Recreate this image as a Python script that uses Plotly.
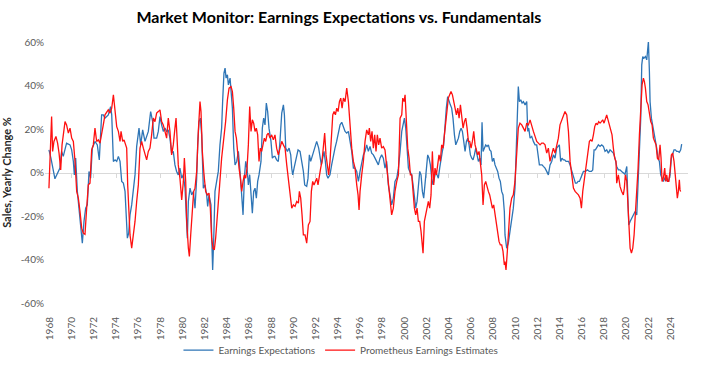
import plotly.graph_objects as go

# ---- data (decimal year, % yearly change) ----
blue_years = [
    1967.95, 1968.13, 1968.49, 1968.79, 1968.94, 1969.09, 1969.24, 1969.54, 1969.85, 1970.00,
    1970.15, 1970.24, 1970.36, 1970.51, 1970.69, 1970.81, 1970.96, 1971.11, 1971.26, 1971.41,
    1971.56, 1971.71, 1971.86, 1972.10, 1972.31, 1972.49, 1972.70, 1972.85, 1973.00, 1973.30,
    1973.51, 1973.61, 1973.76, 1973.91, 1974.06, 1974.21, 1974.36, 1974.51, 1974.66, 1974.81,
    1974.90, 1975.02, 1975.14, 1975.26, 1975.41, 1975.56, 1975.71, 1975.86, 1976.07, 1976.22,
    1976.40, 1976.61, 1976.76, 1976.91, 1977.12, 1977.30, 1977.42, 1977.66, 1977.81, 1977.96,
    1978.11, 1978.26, 1978.41, 1978.56, 1978.71, 1978.86, 1979.01, 1979.16, 1979.31, 1979.46,
    1979.61, 1979.76, 1979.92, 1980.07, 1980.22, 1980.31, 1980.43, 1980.52, 1980.67, 1980.82,
    1980.97, 1981.12, 1981.27, 1981.36, 1981.48, 1981.60, 1981.72, 1981.87, 1982.02, 1982.17,
    1982.26, 1982.38, 1982.56, 1982.62, 1982.71, 1982.80, 1982.92, 1983.07, 1983.22, 1983.37,
    1983.52, 1983.61, 1983.73, 1983.83, 1983.92, 1984.04, 1984.13, 1984.28, 1984.37, 1984.49,
    1984.61, 1984.73, 1984.88, 1985.03, 1985.18, 1985.33, 1985.45, 1985.57, 1985.69, 1985.81,
    1985.93, 1986.05, 1986.17, 1986.29, 1986.41, 1986.53, 1986.65, 1986.77, 1986.89, 1987.07,
    1987.19, 1987.31, 1987.43, 1987.55, 1987.67, 1987.79, 1987.97, 1988.09, 1988.24, 1988.33,
    1988.48, 1988.63, 1988.78, 1988.94, 1989.09, 1989.18, 1989.30, 1989.45, 1989.60, 1989.75,
    1989.84, 1989.93, 1990.05, 1990.23, 1990.41, 1990.59, 1990.77, 1990.89, 1991.01, 1991.19,
    1991.31, 1991.43, 1991.55, 1991.73, 1991.91, 1992.09, 1992.27, 1992.39, 1992.51, 1992.63,
    1992.75, 1992.87, 1992.99, 1993.11, 1993.29, 1993.44, 1993.59, 1993.74, 1993.89, 1994.05,
    1994.20, 1994.35, 1994.50, 1994.65, 1994.80, 1994.95, 1995.10, 1995.25, 1995.40, 1995.55,
    1995.70, 1995.85, 1996.00, 1996.15, 1996.30, 1996.45, 1996.60, 1996.75, 1996.90, 1997.05,
    1997.20, 1997.35, 1997.50, 1997.65, 1997.80, 1997.95, 1998.10, 1998.25, 1998.40, 1998.55,
    1998.70, 1998.85, 1999.00, 1999.15, 1999.31, 1999.46, 1999.61, 1999.76, 1999.91, 2000.00,
    2000.12, 2000.24, 2000.36, 2000.48, 2000.66, 2000.78, 2000.90, 2001.02, 2001.14, 2001.26,
    2001.38, 2001.50, 2001.62, 2001.74, 2001.86, 2001.98, 2002.10, 2002.22, 2002.34, 2002.46,
    2002.58, 2002.70, 2002.82, 2002.94, 2003.06, 2003.18, 2003.30, 2003.42, 2003.54, 2003.66,
    2003.78, 2003.90, 2004.02, 2004.14, 2004.26, 2004.38, 2004.51, 2004.63, 2004.75, 2004.87,
    2004.99, 2005.11, 2005.23, 2005.35, 2005.47, 2005.59, 2005.71, 2005.83, 2005.95, 2006.07,
    2006.19, 2006.31, 2006.43, 2006.55, 2006.67, 2006.79, 2006.91, 2007.00, 2007.09, 2007.21,
    2007.33, 2007.45, 2007.57, 2007.69, 2007.81, 2007.93, 2008.05, 2008.17, 2008.29, 2008.41,
    2008.53, 2008.65, 2008.77, 2008.89, 2009.01, 2009.07, 2009.22, 2009.37, 2009.52, 2009.67,
    2009.82, 2009.97, 2010.12, 2010.27, 2010.37, 2010.49, 2010.61, 2010.73, 2010.88, 2011.03,
    2011.12, 2011.21, 2011.33, 2011.48, 2011.63, 2011.78, 2011.93, 2012.08, 2012.17, 2012.29,
    2012.41, 2012.53, 2012.68, 2012.83, 2012.98, 2013.13, 2013.28, 2013.43, 2013.58, 2013.73,
    2013.88, 2013.97, 2014.09, 2014.21, 2014.33, 2014.45, 2014.57, 2014.69, 2014.81, 2014.93,
    2015.05, 2015.17, 2015.30, 2015.42, 2015.54, 2015.66, 2015.78, 2015.90, 2016.02, 2016.14,
    2016.32, 2016.50, 2016.68, 2016.86, 2016.98, 2017.10, 2017.22, 2017.34, 2017.49, 2017.64,
    2017.79, 2017.94, 2018.09, 2018.24, 2018.39, 2018.54, 2018.69, 2018.84, 2018.99, 2019.14,
    2019.29, 2019.44, 2019.59, 2019.74, 2019.89, 2020.05, 2020.14, 2020.23, 2020.35, 2020.50,
    2020.65, 2020.80, 2020.95, 2021.07, 2021.19, 2021.31, 2021.40, 2021.49, 2021.61, 2021.73,
    2021.85, 2021.94, 2022.00, 2022.09, 2022.15, 2022.27, 2022.39, 2022.51, 2022.63, 2022.75,
    2022.87, 2022.99, 2023.11, 2023.23, 2023.35, 2023.47, 2023.59, 2023.71, 2023.83, 2023.95,
    2024.07, 2024.19, 2024.31, 2024.43, 2024.55, 2024.67, 2024.79, 2024.91, 2025.00,
]
blue_vals = [
    10.4, 6.6, -2.9, 0.5, 2.0, 9.7, 7.4, 13.5, 12.7, 10.4,
    5.1, -1.1, 6.6, -8.7, -17.2, -24.1, -32.5, -22.5, -16.4, -14.9,
    0.5, -2.6, 11.2, 14.3, 12.7, 5.8, 26.5, 26.5, 25.0, 26.5,
    30.3, 26.5, 5.1, 5.8, 5.1, 7.4, 5.1, -4.1, -4.9, -8.7,
    -19.5, -30.2, -27.9, -19.5, -14.9, -8.7, -1.1, 12.0, 20.4, 12.7,
    19.6, 14.3, 16.6, 18.9, 28.0, 23.4, 15.8, 15.8, 18.9, 25.7,
    21.9, 18.9, 20.4, 18.9, 19.6, 15.8, 8.9, 9.7, 3.5, 0.5,
    -1.1, 2.0, -2.6, -1.1, -7.2, -16.4, -30.2, -13.3, -7.2, -10.3,
    -8.7, -16.4, -2.6, 12.7, 23.4, 25.0, 17.3, -7.2, -5.7, -10.3,
    -15.6, -10.3, -14.9, -28.7, -44.8, -31.7, -8.7, -4.1, 0.5, 12.7,
    20.4, 32.6, 45.7, 48.0, 43.4, 44.9, 40.3, 43.4, 38.8, 29.6,
    11.2, 3.5, 5.1, 9.7, 0.5, -8.7, -19.5, -2.6, 5.1, 2.0,
    -5.7, -1.1, -13.3, -18.7, -8.7, -7.2, -11.8, -4.1, -1.1, 5.1,
    20.4, 25.0, 21.9, 31.9, 28.0, 20.4, 14.3, 6.6, 7.4, 7.4,
    5.8, 5.1, 14.3, 27.3, 31.1, 26.5, 11.2, 9.7, 11.2, 8.1,
    2.0, -1.1, 2.0, 6.6, 10.4, 9.7, 5.1, 0.5, -5.7, -6.4,
    -2.6, 8.1, 5.1, 8.1, 11.2, 14.3, 11.2, 6.6, 3.5, 6.6,
    9.7, 5.1, -1.1, -2.6, -1.1, 3.5, 8.1, 11.2, 14.3, 18.9,
    21.9, 23.1, 21.1, 18.9, 18.1, 18.9, 14.3, 9.7, 2.0, 2.0,
    0.5, -4.1, 0.5, 5.1, 8.1, 9.7, 12.7, 9.7, 12.0, 8.9,
    8.1, 6.6, 5.1, 3.5, 6.6, 8.1, 6.6, 2.0, 5.1, -5.7,
    -10.3, -14.9, -11.8, -4.1, -2.6, 2.0, 9.7, 18.9, 22.7, 25.0,
    20.4, 9.7, 2.0, 0.5, -1.1, -5.7, -11.8, -16.4, -13.3, -4.1,
    0.5, -1.1, -8.7, -11.8, -5.7, 3.5, 8.1, 6.6, 3.5, -2.6,
    -5.7, -2.6, 0.5, -1.1, -2.6, 2.0, 6.6, 9.7, 12.7, 21.9,
    29.6, 34.9, 32.6, 31.1, 29.6, 25.0, 17.3, 12.7, 14.3, 15.8,
    18.9, 20.4, 18.9, 12.7, 9.7, 14.3, 15.8, 12.7, 8.1, 6.6,
    5.8, 8.1, 11.2, 8.1, 5.1, 6.6, 3.5, 23.1, 9.7, 11.2,
    12.7, 12.0, 12.7, 10.4, 9.7, 5.1, 6.6, 3.5, 2.0, 0.5,
    -2.6, -4.1, -8.7, -10.3, -17.9, -28.7, -34.8, -32.5, -27.1, -22.5,
    -16.4, -7.2, 17.3, 39.5, 32.6, 33.4, 31.9, 32.6, 31.1, 32.6,
    18.9, 20.4, 15.8, 16.6, 14.3, 12.7, 12.7, 5.1, 3.5, 3.5,
    3.5, 2.8, 2.0, 0.5, -1.1, 3.5, 5.1, 8.1, 6.6, 11.2,
    12.0, 12.7, 5.1, 6.6, 5.8, 5.8, 5.1, 5.1, 5.1, 3.5,
    1.2, -1.1, -2.6, -4.9, -4.9, -4.1, -4.1, -2.6, -0.3, 0.5,
    0.5, 1.2, 0.5, 0.5, 1.2, 10.4, 10.4, 11.2, 12.7, 12.0,
    12.7, 12.0, 9.7, 10.4, 8.9, 10.4, 9.7, 8.9, 6.6, 2.8,
    1.2, 1.2, 0.5, -0.3, -0.8, 2.8, -8.7, -24.1, -22.5, -21.0,
    -19.5, -17.9, -19.5, -5.7, 8.1, 25.0, 49.5, 53.3, 52.6, 53.3,
    51.8, 57.2, 60.2, 46.4, 32.6, 25.0, 21.9, 18.9, 15.8, 11.2,
    6.6, 5.1, -1.1, -2.6, -4.1, -2.6, -3.4, -4.1, -4.1, -1.1,
    6.6, 8.9, 10.4, 10.4, 9.7, 9.7, 9.3, 10.4, 13.0,
]

red_years = [
    1967.95, 1968.04, 1968.19, 1968.28, 1968.40, 1968.58, 1968.73, 1968.86, 1969.01, 1969.13,
    1969.25, 1969.40, 1969.54, 1969.70, 1969.85, 1970.00, 1970.15, 1970.30, 1970.45, 1970.60,
    1970.75, 1970.90, 1971.05, 1971.20, 1971.35, 1971.50, 1971.65, 1971.80, 1971.95, 1972.10,
    1972.25, 1972.40, 1972.55, 1972.70, 1972.85, 1973.00, 1973.15, 1973.30, 1973.45, 1973.61,
    1973.76, 1973.91, 1974.06, 1974.21, 1974.36, 1974.45, 1974.60, 1974.72, 1974.84, 1974.96,
    1975.05, 1975.14, 1975.26, 1975.41, 1975.56, 1975.71, 1975.86, 1976.01, 1976.16, 1976.31,
    1976.46, 1976.61, 1976.76, 1976.91, 1977.06, 1977.21, 1977.36, 1977.51, 1977.66, 1977.81,
    1977.96, 1978.11, 1978.26, 1978.41, 1978.56, 1978.71, 1978.86, 1979.01, 1979.16, 1979.31,
    1979.41, 1979.53, 1979.61, 1979.76, 1979.92, 1980.07, 1980.16, 1980.28, 1980.37, 1980.52,
    1980.61, 1980.73, 1980.88, 1981.00, 1981.12, 1981.27, 1981.42, 1981.57, 1981.66, 1981.78,
    1981.93, 1982.08, 1982.23, 1982.38, 1982.50, 1982.62, 1982.74, 1982.86, 1982.98, 1983.16,
    1983.34, 1983.52, 1983.70, 1983.88, 1984.04, 1984.19, 1984.37, 1984.49, 1984.61, 1984.73,
    1984.85, 1984.97, 1985.09, 1985.21, 1985.33, 1985.45, 1985.57, 1985.69, 1985.81, 1985.93,
    1986.05, 1986.17, 1986.29, 1986.41, 1986.53, 1986.65, 1986.77, 1986.89, 1987.01, 1987.13,
    1987.25, 1987.37, 1987.49, 1987.61, 1987.73, 1987.88, 1988.03, 1988.18, 1988.33, 1988.48,
    1988.63, 1988.78, 1988.94, 1989.09, 1989.24, 1989.39, 1989.54, 1989.69, 1989.84, 1989.99,
    1990.14, 1990.29, 1990.44, 1990.53, 1990.65, 1990.77, 1990.89, 1991.04, 1991.19, 1991.34,
    1991.49, 1991.61, 1991.73, 1991.85, 1991.97, 1992.09, 1992.21, 1992.33, 1992.45, 1992.57,
    1992.69, 1992.81, 1992.93, 1993.05, 1993.17, 1993.29, 1993.41, 1993.54, 1993.66, 1993.78,
    1993.90, 1994.02, 1994.14, 1994.26, 1994.38, 1994.50, 1994.65, 1994.80, 1994.95, 1995.10,
    1995.25, 1995.40, 1995.55, 1995.70, 1995.82, 1995.91, 1996.00, 1996.15, 1996.30, 1996.45,
    1996.60, 1996.75, 1996.84, 1996.96, 1997.08, 1997.20, 1997.32, 1997.44, 1997.56, 1997.68,
    1997.80, 1997.95, 1998.10, 1998.25, 1998.40, 1998.55, 1998.70, 1998.85, 1999.00, 1999.15,
    1999.31, 1999.46, 1999.61, 1999.76, 1999.85, 1999.97, 2000.06, 2000.18, 2000.30, 2000.42,
    2000.54, 2000.66, 2000.78, 2000.90, 2001.02, 2001.14, 2001.26, 2001.38, 2001.50, 2001.62,
    2001.68, 2001.80, 2001.92, 2002.04, 2002.16, 2002.28, 2002.40, 2002.52, 2002.64, 2002.76,
    2002.88, 2003.00, 2003.12, 2003.24, 2003.36, 2003.48, 2003.60, 2003.72, 2003.84, 2003.96,
    2004.08, 2004.20, 2004.33, 2004.45, 2004.57, 2004.69, 2004.81, 2004.93, 2005.05, 2005.17,
    2005.29, 2005.41, 2005.53, 2005.65, 2005.77, 2005.89, 2006.01, 2006.13, 2006.25, 2006.37,
    2006.49, 2006.61, 2006.73, 2006.85, 2006.97, 2007.09, 2007.21, 2007.33, 2007.45, 2007.57,
    2007.69, 2007.81, 2007.93, 2008.05, 2008.17, 2008.29, 2008.41, 2008.53, 2008.65, 2008.77,
    2008.89, 2009.01, 2009.07, 2009.16, 2009.28, 2009.40, 2009.52, 2009.67, 2009.82, 2009.97,
    2010.12, 2010.27, 2010.42, 2010.58, 2010.73, 2010.88, 2011.03, 2011.18, 2011.33, 2011.48,
    2011.63, 2011.78, 2011.93, 2012.08, 2012.23, 2012.38, 2012.53, 2012.68, 2012.83, 2012.98,
    2013.13, 2013.28, 2013.43, 2013.58, 2013.73, 2013.88, 2014.03, 2014.18, 2014.33, 2014.48,
    2014.64, 2014.79, 2014.94, 2015.09, 2015.24, 2015.39, 2015.54, 2015.69, 2015.84, 2015.96,
    2016.08, 2016.20, 2016.32, 2016.44, 2016.56, 2016.68, 2016.80, 2016.92, 2017.04, 2017.16,
    2017.28, 2017.40, 2017.52, 2017.64, 2017.76, 2017.88, 2018.00, 2018.12, 2018.24, 2018.36,
    2018.48, 2018.60, 2018.72, 2018.84, 2018.96, 2019.08, 2019.14, 2019.29, 2019.44, 2019.59,
    2019.74, 2019.83, 2019.92, 2020.05, 2020.14, 2020.23, 2020.35, 2020.47, 2020.59, 2020.71,
    2020.83, 2020.95, 2021.07, 2021.19, 2021.31, 2021.43, 2021.55, 2021.64, 2021.73, 2021.85,
    2021.97, 2022.09, 2022.21, 2022.33, 2022.45, 2022.57, 2022.69, 2022.81, 2022.93, 2023.05,
    2023.14, 2023.23, 2023.35, 2023.47, 2023.56, 2023.65, 2023.74, 2023.83, 2023.95, 2024.07,
    2024.19, 2024.31, 2024.43, 2024.55, 2024.61, 2024.70, 2024.79, 2024.85, 2024.91,
]
red_vals = [
    -7.2, 9.7, 25.7, 9.7, 14.3, 16.6, 13.5, 8.9, 1.2, 12.7,
    17.3, 23.4, 21.9, 18.1, 20.4, 15.8, 14.3, 5.1, -8.7, -11.8,
    -17.9, -25.6, -27.9, -28.4, -16.4, -5.7, -4.9, 10.4, 12.7, 20.4,
    14.3, 15.0, 13.5, 18.9, 21.9, 26.5, 28.0, 28.8, 27.3, 29.6,
    35.7, 28.0, 21.1, 18.9, 14.3, 18.9, 14.3, 15.0, 12.7, 11.2,
    -5.7, -16.4, -28.7, -34.8, -28.7, -22.5, -13.3, -5.7, 11.2, 14.3,
    11.2, 8.1, 5.8, 9.7, 11.2, 17.3, 25.0, 23.4, 27.3, 28.0,
    28.8, 23.4, 21.9, 18.9, 15.8, 25.0, 18.9, 8.1, 12.7, 20.4,
    25.0, 12.7, 3.5, -2.6, -12.6, -4.1, 6.6, -4.1, -22.5, -34.8,
    -38.6, -28.7, -16.4, -8.7, -7.2, 0.5, 18.9, 32.6, 28.0, 9.7,
    -1.1, -8.7, -10.3, -9.5, -16.4, -30.2, -34.8, -35.6, -30.2, -19.5,
    -5.7, 6.6, 14.3, 23.4, 33.4, 38.8, 39.5, 37.2, 29.6, 18.9,
    15.8, 8.1, 2.0, -2.6, -8.7, -4.1, -1.1, -2.6, 2.0, 12.7,
    30.3, 18.9, 24.2, 22.7, 18.9, 20.4, 17.3, 5.1, 11.2, 9.7,
    12.7, 15.8, 14.3, 17.3, 18.1, 15.8, 17.3, 15.0, 17.3, 11.2,
    8.1, 11.2, 14.3, 12.7, 11.2, 3.5, -4.1, -8.7, -16.4, -14.9,
    -15.6, -13.3, -14.1, -8.7, -11.8, -19.5, -28.7, -28.7, -32.5, -24.1,
    -22.5, -8.7, -4.1, -5.7, -4.1, -2.6, -5.7, -1.1, 2.0, 5.1,
    12.7, 18.1, 8.1, 2.0, -1.1, 5.1, 17.3, 26.5, 28.0, 26.5,
    29.6, 28.0, 32.6, 34.2, 29.6, 34.2, 32.6, 38.8, 32.6, 20.4,
    11.2, 5.1, 2.0, -5.7, -10.3, -17.2, -8.7, -1.1, 5.1, 14.3,
    19.6, 17.3, 20.4, 14.3, 18.9, 11.2, 17.3, 9.7, 17.3, 12.7,
    15.8, 11.2, 11.9, 10.4, 3.5, -5.7, -13.3, -19.5, -16.4, -8.7,
    -4.1, -1.1, 25.0, 26.5, 34.2, 32.6, 35.7, 18.9, 11.2, 6.6,
    -1.1, -1.1, -8.7, -16.4, -19.5, -16.4, -22.5, -22.5, -27.1, -33.3,
    -37.1, -22.5, -19.5, -16.4, -13.3, -16.4, -10.3, 9.7, -5.7, 2.0,
    -1.1, 3.5, 8.1, 5.1, 12.7, 11.2, 17.3, 25.0, 31.1, 34.2,
    35.7, 37.2, 35.7, 32.6, 31.1, 26.5, 29.6, 25.0, 31.1, 26.5,
    20.4, 23.4, 25.0, 20.4, 14.3, 14.3, 11.2, 14.3, 18.9, 12.7,
    9.7, 8.1, 9.7, 5.1, -1.1, -14.9, -5.7, -4.1, -7.2, -8.7,
    -10.3, -13.3, -16.4, -14.9, -19.5, -22.5, -28.7, -31.7, -33.3, -33.3,
    -36.3, -42.5, -40.9, -44.8, -36.3, -27.1, -16.4, -11.8, -10.3, -4.1,
    11.2, 20.4, 22.7, 21.9, 20.4, 18.9, 22.7, 21.9, 24.2, 21.1,
    18.9, 16.6, 14.3, 13.5, 12.7, 13.5, 13.5, 12.7, 8.9, 11.2,
    5.1, 8.1, 11.2, 8.9, 12.7, 15.8, 21.9, 24.2, 25.7, 28.0,
    26.5, 18.9, 5.1, -2.6, -7.2, -8.7, -9.5, -10.3, -11.8, -16.4,
    -8.7, -2.6, 0.5, 5.1, 11.2, 14.3, 15.0, 14.3, 17.3, 21.1,
    22.7, 21.9, 23.4, 22.7, 23.4, 24.2, 22.7, 25.0, 26.5, 24.2,
    21.9, 20.4, 17.3, 11.2, 6.6, 5.1, -4.9, -1.1, -6.4, -8.7,
    -10.3, -7.2, -1.1, -4.1, -13.3, -25.6, -34.8, -37.1, -34.8, -28.7,
    -19.5, -10.3, 2.0, 17.3, 32.6, 40.3, 43.4, 41.8, 38.8, 32.6,
    31.1, 26.5, 23.4, 21.9, 15.8, 14.3, 12.7, 6.6, 5.8, 12.7,
    6.6, -4.1, -2.6, 2.0, -4.1, -1.1, -4.1, -4.1, 0.5, 8.1,
    8.9, 5.1, -1.1, -7.2, -11.8, -8.7, -3.4, -8.0, -8.7,
]

year_ticks = list(range(1968, 2025, 2))
year_labels = [str(y) for y in year_ticks]
y_ticks = [-60, -40, -20, 0, 20, 40, 60]
y_labels = ["-60%", "-40%", "-20%", "0%", "20%", "40%", "60%"]

series_names = ["Earnings Expectations", "Prometheus Earnings Estimates"]
BLUE = "#2E75B6"
RED = "#FF1010"
FONT = "Lato, 'Liberation Sans', sans-serif"
GREY = "#595959"
X_RANGE = [1967.594, 2025.57]

fig = go.Figure()
fig.add_trace(go.Scatter(x=blue_years, y=blue_vals, mode="lines", name=series_names[0],
                         line=dict(color=BLUE, width=1.3)))
fig.add_trace(go.Scatter(x=red_years, y=red_vals, mode="lines", name=series_names[1],
                         line=dict(color=RED, width=1.3)))
# helper trace so the zero-crossing category axis (xaxis2) is drawn
fig.add_trace(go.Scatter(x=[None], y=[None], xaxis="x2", yaxis="y", showlegend=False,
                         hoverinfo="skip"))

fig.update_layout(
    width=703, height=365,
    margin=dict(l=45, r=15, t=42, b=62, autoexpand=False),
    paper_bgcolor="white", plot_bgcolor="white",
    font=dict(family=FONT, size=10, color=GREY),
    title=dict(text="<b>Market Monitor: Earnings Expectations vs. Fundamentals</b>",
               x=0.482, xref="container", xanchor="center",
               y=0.952, yref="container", yanchor="middle",
               font=dict(family=FONT, size=16, color="#000000")),
    xaxis=dict(range=X_RANGE, tickmode="array", tickvals=year_ticks, ticktext=year_labels,
               tickangle=-90, showgrid=False, zeroline=False, showline=False,
               ticks="outside", ticklen=9, tickcolor="rgba(0,0,0,0)", automargin=False,
               tickfont=dict(size=10, color=GREY)),
    xaxis2=dict(range=X_RANGE, overlaying="x", anchor="free", position=0.5, side="bottom",
                showline=True, linecolor="#D9D9D9", linewidth=1, layer="below traces",
                tickmode="array", tickvals=year_ticks, ticks="outside", ticklen=4,
                tickcolor="#D9D9D9", showticklabels=False, showgrid=False, zeroline=False),
    yaxis=dict(range=[-60, 60], tickmode="array", tickvals=y_ticks, ticktext=y_labels,
               showgrid=False, zeroline=False, showline=False, ticks="", automargin=False,
               tickfont=dict(size=10, color=GREY),
               title=dict(text="<b>Sales, Yearly Change %</b>", standoff=9,
                          font=dict(size=11, color="#262626"))),
    legend=dict(orientation="h", x=0.485, xref="container", xanchor="center",
                y=0.041, yref="container", yanchor="middle",
                font=dict(size=10, color=GREY), itemwidth=30, bgcolor="rgba(0,0,0,0)"),
    showlegend=True,
    hovermode=False,
)

# the page body has a default 8px margin; remove it so the 703x365 figure fills the window
fig.write_html("out.html", config={"displayModeBar": False, "staticPlot": True},
               post_script="document.body.style.margin='0px';")
